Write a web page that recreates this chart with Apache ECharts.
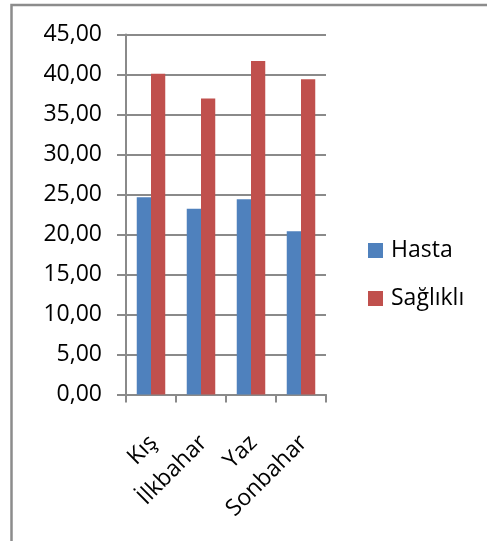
<!DOCTYPE html>
<html>
<head>
<meta charset="utf-8">
<script src="https://cdn.jsdelivr.net/npm/echarts@6/dist/echarts.min.js"></script>
<style>
  html, body { margin: 0; padding: 0; background: #fff; }
  #chart { width: 487px; height: 541px; }
</style>
</head>
<body>
<div id="chart"></div>
<script>
// Seasons on the category axis
const seasons = ['Kış', 'İlkbahar', 'Yaz', 'Sonbahar'];
// Series values
const hasta = [24.66, 23.2, 24.4, 20.4];
const saglikli = [40.1, 37.0, 41.7, 39.4];
// Value axis range
const yMin = 0;
const yMax = 45;
const yStep = 5;

const gridColor = '#8a8a8a';
const fontFamily = '"Open Sans", "Noto Sans", sans-serif';

const chart = echarts.init(document.getElementById('chart'), null, { renderer: 'canvas' });

chart.setOption({
  animation: false,
  backgroundColor: '#ffffff',
  graphic: [{
    type: 'rect',
    shape: { x: 11.5, y: 5, width: 600, height: 600 },
    style: { fill: 'none', stroke: '#8c8c8c', lineWidth: 2.5 },
    silent: true
  }],
  grid: { left: 126, right: 161, top: 34.5, bottom: 146.6 },
  legend: {
    orient: 'vertical',
    left: 363,
    top: 232.5,
    itemWidth: 15,
    itemHeight: 15,
    itemGap: 22,
    icon: 'rect',
    textStyle: { fontFamily: fontFamily, fontSize: 23, color: '#000', lineHeight: 26, padding: [0, 0, 0, 3] },
    data: ['Hasta', 'Sağlıklı']
  },
  xAxis: {
    type: 'category',
    data: seasons,
    boundaryGap: true,
    axisLine: { show: true, lineStyle: { color: gridColor, width: 2 } },
    axisTick: { show: true, alignWithLabel: false, length: 8, lineStyle: { color: gridColor, width: 2 } },
    axisLabel: {
      rotate: 45,
      interval: 0,
      margin: 31,
      verticalAlign: 'top',
      padding: [0, 8, 0, 0],
      fontFamily: fontFamily,
      fontSize: 23,
      color: '#000'
    },
    splitLine: { show: false }
  },
  yAxis: {
    type: 'value',
    min: yMin,
    max: yMax,
    interval: yStep,
    axisLine: { show: true, lineStyle: { color: gridColor, width: 2 } },
    axisTick: { show: true, length: 9, lineStyle: { color: gridColor, width: 2 } },
    axisLabel: {
      margin: 24,
      fontFamily: fontFamily,
      fontSize: 23,
      color: '#000',
      formatter: v => v.toFixed(2).replace('.', ',')
    },
    splitLine: { show: true, lineStyle: { color: gridColor, width: 1.8 } }
  },
  series: [
    {
      name: 'Hasta',
      type: 'bar',
      data: hasta,
      barGap: '0%',
      barCategoryGap: '43%',
      itemStyle: { color: '#4F81BD' }
    },
    {
      name: 'Sağlıklı',
      type: 'bar',
      data: saglikli,
      barGap: '0%',
      barCategoryGap: '43%',
      itemStyle: { color: '#C0504D' }
    }
  ]
});
</script>
</body>
</html>
